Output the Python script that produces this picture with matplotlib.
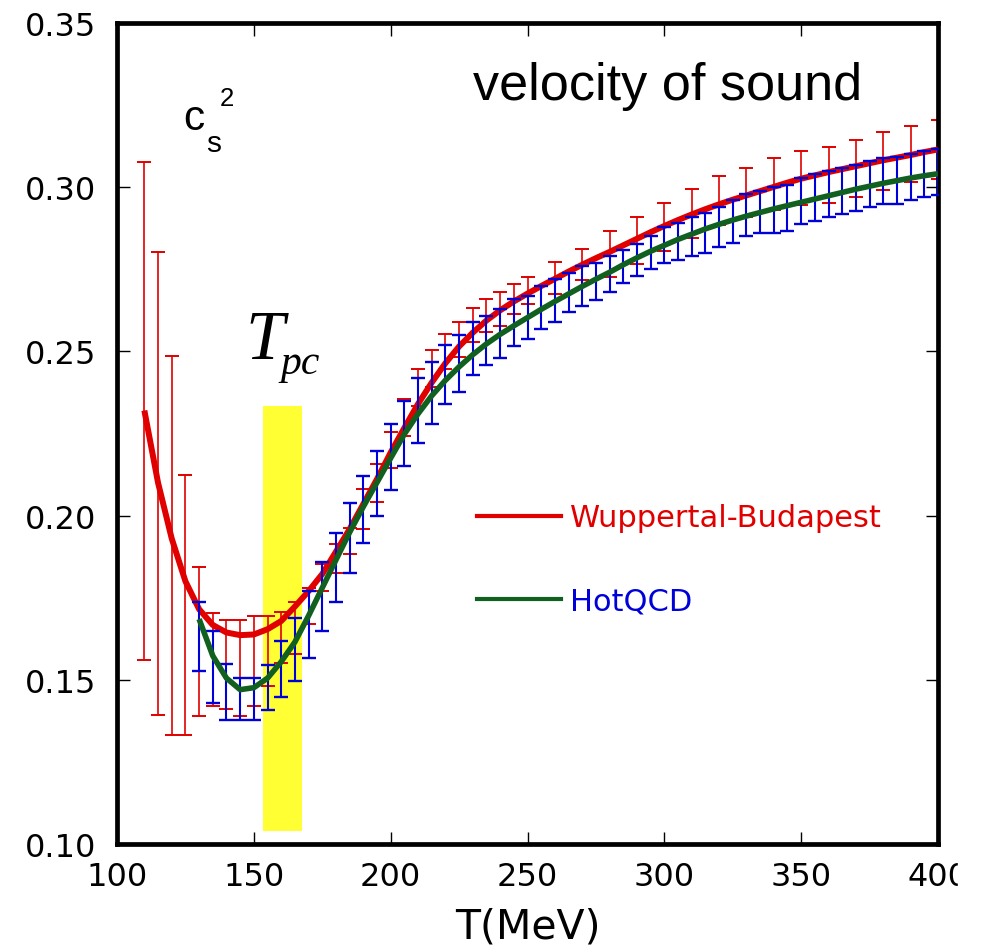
import numpy as np
import matplotlib
matplotlib.use("Agg")
import matplotlib.pyplot as plt
from matplotlib.lines import Line2D
from matplotlib.patches import Rectangle

# ---------------- data ----------------
# Wuppertal-Budapest error bars (centre, half-width)
T_wb = [110, 115, 120, 125, 130, 135, 140, 145, 150, 155, 160, 165, 170, 175, 180,
        185, 190, 195, 200, 205, 210, 215, 220, 225, 230, 235, 240, 245, 250,
        260, 270, 280, 290, 300, 310, 320, 330, 340, 350, 360, 370, 380, 390, 400]
cs2_wb = [0.2318, 0.2098, 0.1909, 0.1728, 0.1617, 0.1562, 0.1547, 0.1536, 0.1558, 0.1587,
          0.1628, 0.1658, 0.1725, 0.1812, 0.1870, 0.1922, 0.2020, 0.2099, 0.2200, 0.2299,
          0.2390, 0.2448, 0.2500, 0.2537, 0.2580, 0.2609, 0.2629, 0.2659, 0.2685,
          0.2723, 0.2765, 0.2798, 0.2838, 0.2880, 0.2920, 0.2960, 0.2984, 0.3010,
          0.3028, 0.3038, 0.3058, 0.3080, 0.3100, 0.3116]
err_wb = [0.0758, 0.0705, 0.0576, 0.0395, 0.0227, 0.0142, 0.0135, 0.0146, 0.0137, 0.0107,
          0.0077, 0.0078, 0.0055, 0.0041, 0.0044, 0.0039, 0.0060, 0.0058, 0.0056, 0.0056,
          0.0056, 0.0056, 0.0054, 0.0053, 0.0052, 0.0051, 0.0053, 0.0046, 0.0042,
          0.0048, 0.0047, 0.0070, 0.0072, 0.0073, 0.0075, 0.0075, 0.0074, 0.0080,
          0.0083, 0.0085, 0.0087, 0.0088, 0.0085, 0.0090]

# HotQCD error bars (centre, half-width)
T_hq = list(range(130, 401, 5))
cs2_hq = [0.1632, 0.1539, 0.1463, 0.1442, 0.1442, 0.1477, 0.1534, 0.1593, 0.1668, 0.1754,
          0.1843, 0.1932, 0.2019, 0.2098, 0.2179, 0.2250, 0.2320, 0.2374, 0.2430, 0.2464,
          0.2509, 0.2534, 0.2554, 0.2588, 0.2604, 0.2633, 0.2654, 0.2679, 0.2699, 0.2713,
          0.2736, 0.2759, 0.2778, 0.2800, 0.2823, 0.2835, 0.2849, 0.2860, 0.2879, 0.2895,
          0.2915, 0.2925, 0.2930, 0.2938, 0.2958, 0.2969, 0.2979, 0.2988, 0.2998, 0.3009,
          0.3019, 0.3020, 0.3031, 0.3039, 0.3045]
err_hq = [0.0106, 0.0109, 0.0085, 0.0064, 0.0064, 0.0069, 0.0085, 0.0096, 0.0101, 0.0104,
          0.0105, 0.0106, 0.0101, 0.0100, 0.0100, 0.0100, 0.0100, 0.0095, 0.0090, 0.0087,
          0.0081, 0.0075, 0.0075, 0.0072, 0.0066, 0.0065, 0.0065, 0.0060, 0.0060, 0.0056,
          0.0056, 0.0051, 0.0049, 0.0050, 0.0055, 0.0056, 0.0059, 0.0060, 0.0060, 0.0065,
          0.0065, 0.0064, 0.0070, 0.0070, 0.0070, 0.0071, 0.0071, 0.0070, 0.0070, 0.0070,
          0.0070, 0.0071, 0.0070, 0.0070, 0.0070]

# Parametrisation curves
T_curve_wb = list(range(110, 401, 5))
curve_wb = [0.2320, 0.2100, 0.1930, 0.1800, 0.1715, 0.1667, 0.1644, 0.1636, 0.1638, 0.1654,
            0.1679, 0.1723, 0.1770, 0.1822, 0.1890, 0.1959, 0.2035, 0.2111, 0.2192, 0.2267,
            0.2340, 0.2405, 0.2464, 0.2515, 0.2557, 0.2594, 0.2625, 0.2652, 0.2676, 0.2699,
            0.2721, 0.2743, 0.2764, 0.2784, 0.2803, 0.2823, 0.2843, 0.2863, 0.2882, 0.2900,
            0.2917, 0.2933, 0.2948, 0.2962, 0.2975, 0.2988, 0.3001, 0.3014, 0.3026, 0.3036,
            0.3046, 0.3055, 0.3064, 0.3073, 0.3082, 0.3090, 0.3098, 0.3107, 0.3115]
T_curve_hq = list(range(130, 401, 5))
curve_hq = [0.1685, 0.1573, 0.1505, 0.1470, 0.1476, 0.1505, 0.1555, 0.1615, 0.1695, 0.1780,
            0.1865, 0.1949, 0.2027, 0.2101, 0.2175, 0.2248, 0.2310, 0.2365, 0.2412, 0.2453,
            0.2490, 0.2523, 0.2552, 0.2578, 0.2603, 0.2628, 0.2652, 0.2675, 0.2698, 0.2720,
            0.2741, 0.2764, 0.2785, 0.2805, 0.2823, 0.2841, 0.2857, 0.2873, 0.2887, 0.2900,
            0.2912, 0.2923, 0.2934, 0.2944, 0.2954, 0.2964, 0.2974, 0.2984, 0.2994, 0.3003,
            0.3012, 0.3020, 0.3028, 0.3035, 0.3041]

# pseudo-critical temperature band
tpc_band_T = [153.5, 167.5]
tpc_band_cs2 = [0.104, 0.2335]

x_ticks = [100, 150, 200, 250, 300, 350, 400]
y_ticks = [0.10, 0.15, 0.20, 0.25, 0.30, 0.35]
labels = ["Wuppertal-Budapest", "HotQCD"]

RED = "#e00000"
BLUE = "#0000d8"
GREEN = "#11601f"
YELLOW = "#ffff33"

# ---------------- figure ----------------
W, H = 981, 953
fig = plt.figure(figsize=(W / 100, H / 100), dpi=100)
L, R, B, Tt = 117, 938, 845, 24
ax = fig.add_axes([L / W, (H - B) / H, (R - L) / W, (B - Tt) / H])

ax.fill_between(tpc_band_T, tpc_band_cs2[0], tpc_band_cs2[1], color=YELLOW,
                linewidth=0, zorder=1)

ax.errorbar(T_wb, cs2_wb, yerr=err_wb, fmt="none", ecolor=RED, elinewidth=1.2,
            capsize=5, capthick=1.4, zorder=2)
ax.plot(T_curve_wb, curve_wb, color=RED, lw=4.3, solid_capstyle="butt",
        solid_joinstyle="round", zorder=3)
ax.errorbar(T_hq, cs2_hq, yerr=err_hq, fmt="none", ecolor=BLUE, elinewidth=1.5,
            capsize=5, capthick=1.7, zorder=4)
ax.plot(T_curve_hq, curve_hq, color=GREEN, lw=4.0, solid_capstyle="butt",
        solid_joinstyle="round", zorder=5)

ax.set_xlim(100, 400)
ax.set_ylim(0.10, 0.35)
ax.set_xticks(x_ticks)
ax.set_xticklabels([str(v) for v in x_ticks])
ax.set_yticks(y_ticks)
ax.set_yticklabels([f"{v:.2f}" for v in y_ticks])
ax.tick_params(direction="in", length=9, width=1.0, top=True, right=True,
               labelsize=23, colors="black")
ax.tick_params(axis="x", pad=12)
ax.tick_params(axis="y", pad=15)
for lab in ax.get_xticklabels() + ax.get_yticklabels():
    lab.set_fontfamily("DejaVu Sans")
for s in ax.spines.values():
    s.set_linewidth(3.4)

ax.set_xlabel("T(MeV)", fontsize=29.5, family="DejaVu Sans", labelpad=11)

def fx(px):
    return (px - L) / (R - L)

def fy(py):
    return (B - py) / (B - Tt)

ax.text(fx(473), fy(100), "velocity of sound", transform=ax.transAxes,
        fontsize=37.5, family="Liberation Sans", ha="left", va="baseline")
ax.text(fx(183), fy(130), "c", transform=ax.transAxes,
        fontsize=30.5, family="Liberation Sans", ha="left", va="baseline")
ax.text(fx(206), fy(152.5), "s", transform=ax.transAxes,
        fontsize=21.5, family="Liberation Sans", ha="left", va="baseline")
ax.text(fx(220), fy(105.7), "2", transform=ax.transAxes,
        fontsize=18.5, family="Liberation Sans", ha="left", va="baseline")
ax.text(fx(245), fy(359), "T", transform=ax.transAxes, fontsize=50,
        family="Liberation Serif", style="italic", ha="left", va="baseline")
ax.text(fx(280), fy(374), "pc", transform=ax.transAxes, fontsize=30,
        family="Liberation Serif", style="italic", ha="left", va="baseline")

handles = [Line2D([], [], color=RED, lw=3.0), Line2D([], [], color=GREEN, lw=3.0)]
ax.legend(handles, labels, loc="center left", bbox_to_anchor=(fx(477), fy(560.5)),
          frameon=False, prop={"family": "DejaVu Sans", "size": 22},
          labelcolor=[RED, BLUE], handlelength=2.75, handletextpad=0.3,
          labelspacing=1.78, borderpad=0, borderaxespad=0)

# the original image is cropped on its right edge
fig.add_artist(Rectangle((958 / W, 0.0), 1 - 958 / W, (H - 848) / H,
                         transform=fig.transFigure, color="white", zorder=20))

fig.savefig("out.png", dpi=100)
